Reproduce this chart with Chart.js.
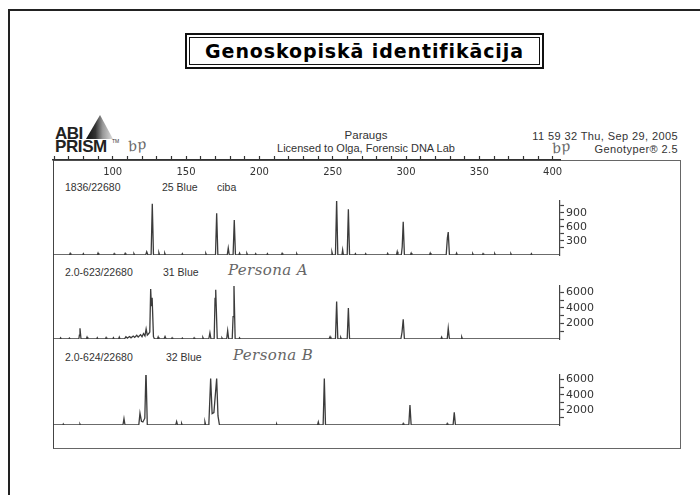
<!DOCTYPE html>
<html>
<head>
<meta charset="utf-8">
<script src="https://cdn.jsdelivr.net/npm/chart.js@4.4.1/dist/chart.umd.min.js"></script>
<style>
  html, body { margin: 0; padding: 0; background: #fff; }
  #page { position: relative; width: 700px; height: 495px; overflow: hidden;
          font-family: "Liberation Sans", Arial, sans-serif; color: #333; }
  .t { position: absolute; white-space: nowrap; line-height: 1; }
  .hand { font-family: "DejaVu Serif", serif; font-style: italic; color: #666; }
  #slideEdge { position: absolute; left: 8px; top: 9px; width: 700px; height: 500px;
               border-top: 2px solid #222; border-left: 2px solid #222; }
  #titleBox { position: absolute; left: 185px; top: 33px; width: 359px; height: 36px;
              box-sizing: border-box; border: 2px solid #111; padding: 2px; }
  #titleBox div { width: 100%; height: 100%; box-sizing: border-box; border: 1px solid #111;
                  display: flex; align-items: center; justify-content: center;
                  font-family: "DejaVu Sans", sans-serif; font-weight: bold; font-size: 19px;
                  letter-spacing: 0.9px; color: #000; }
  #frame { position: absolute; left: 53px; top: 160px; width: 628px; height: 289px;
           box-sizing: border-box; border: 1px solid #666; border-left: 1.5px solid #444; }
  #prism { position: absolute; left: 86px; top: 115px; width: 27px; height: 24px;
           clip-path: polygon(52% 0, 0 100%, 100% 100%);
           background: linear-gradient(to right, #111 0%, #333 35%, #999 62%, #ddd 100%); }
  canvas { position: absolute; left: 0; top: 0; }
</style>
</head>
<body>
<div id="page">
  <div id="slideEdge"></div>
  <div id="titleBox"><div>Genoskopiskā identifikācija</div></div>

  <div id="prism"></div>
  <div class="t" style="left:55px; top:125px; font-weight:bold; font-size:17px; color:#222; letter-spacing:-0.5px;">ABI</div>
  <div class="t" style="left:55px; top:138px; font-weight:bold; font-size:17px; color:#222; letter-spacing:-0.4px;">PRISM</div>
  <div class="t" style="left:112px; top:139px; font-size:5px; color:#333;">TM</div>
  <div class="t hand" style="left:128px; top:138px; font-size:14px; transform:rotate(-12deg);">bp</div>

  <div class="t" style="left:366px; top:130px; font-size:11.5px; transform:translateX(-50%);">Paraugs</div>
  <div class="t" style="left:366px; top:143px; font-size:11px; transform:translateX(-50%);">Licensed to Olga, Forensic DNA Lab</div>
  <div class="t" style="right:22px; top:131px; font-size:11px; letter-spacing:0.4px;">11 59 32 Thu, Sep 29, 2005</div>
  <div class="t" style="right:22px; top:144px; font-size:11px; letter-spacing:0.4px;">Genotyper® 2.5</div>
  <div class="t hand" style="left:552px; top:140px; font-size:14px; transform:rotate(-12deg);">bp</div>

  <div id="frame"></div>

  <div class="t" style="left:65px; top:182px; font-size:10.5px;">1836/22680</div>
  <div class="t" style="left:162px; top:182px; font-size:10.5px;">25 Blue</div>
  <div class="t" style="left:217px; top:182px; font-size:10.5px;">ciba</div>

  <div class="t" style="left:65px; top:267px; font-size:10.5px;">2.0-623/22680</div>
  <div class="t" style="left:163px; top:267px; font-size:10.5px;">31 Blue</div>
  <div class="t hand" style="left:228px; top:263px; font-size:15px; letter-spacing:0.4px;">Persona A</div>

  <div class="t" style="left:65px; top:352px; font-size:10.5px;">2.0-624/22680</div>
  <div class="t" style="left:166px; top:352px; font-size:10.5px;">32 Blue</div>
  <div class="t hand" style="left:233px; top:348px; font-size:15px; letter-spacing:0.4px;">Persona B</div>

  <canvas id="epg" width="700" height="495"></canvas>
</div>

<script>
// fragment size axis (bp) shown along the top
const xTickValues = [60, 70, 80, 90, 100, 110, 120, 130, 140, 150, 160, 170, 180, 190, 200,
  210, 220, 230, 240, 250, 260, 270, 280, 290, 300, 310, 320, 330, 340, 350,
  360, 370, 380, 390, 400];
const xTickLabels = [100, 150, 200, 250, 300, 350, 400];

// RFU rulers on the right of each lane
const cibaTicks = [150, 300, 450, 600, 750, 900, 1050];
const cibaLabels = [300, 600, 900];
const personaTicks = [1000, 2000, 3000, 4000, 5000, 6000];
const personaLabels = [2000, 4000, 6000];

// traces as [bp, rfu]
const cibaTrace = [
  [59.3, 0],
  [70.5, 0], [71, 35], [71.5, 0],
  [79.5, 0], [80, 30], [80.5, 0],
  [89.5, 0], [90, 40], [90.5, 0],
  [100.5, 0], [101, 30], [101.5, 0],
  [108, 0], [108.5, 35], [109, 0],
  [114, 0], [114.5, 30], [115, 0],
  [122.5, 0], [123.2, 70], [124, 0],
  [126.2, 0], [127, 1090], [127.8, 0],
  [131, 0], [131.5, 50], [132, 0],
  [135, 0], [135.5, 40], [136, 0],
  [147, 0], [147.5, 30], [148, 0],
  [163, 0], [163.5, 35], [164, 0],
  [170.1, 0], [170.9, 890], [171.7, 0],
  [178.1, 0], [178.8, 150], [179.5, 0],
  [182.1, 0], [182.9, 745], [183.7, 0],
  [186, 0], [186.5, 40], [187, 0],
  [191, 0], [191.5, 35], [192, 0],
  [197, 0], [197.5, 30], [198, 0],
  [205, 0], [205.5, 30], [206, 0],
  [215, 0], [215.5, 35], [216, 0],
  [225, 0], [225.5, 30], [226, 0],
  [249, 0], [249.5, 60], [250, 0],
  [251.9, 0], [252.7, 1180], [253.5, 0],
  [256.3, 0], [256.8, 110], [257.3, 0],
  [259.9, 0], [260.7, 975], [261.5, 0],
  [265, 0], [265.5, 30], [266, 0],
  [272, 0], [272.5, 30], [273, 0],
  [287, 0], [287.5, 35], [288, 0],
  [293.5, 0], [294, 70], [294.5, 0],
  [296.8, 0], [297.4, 170], [298.1, 710], [298.9, 0],
  [303, 0], [303.5, 40], [304, 0],
  [316, 0], [316.5, 40], [317, 0],
  [327.4, 0], [328.2, 360], [328.8, 490], [329.6, 0],
  [334, 0], [334.5, 40], [335, 0],
  [345, 0], [345.5, 30], [346, 0],
  [352, 0], [352.5, 30], [353, 0],
  [360, 0], [360.5, 30], [361, 0],
  [371, 0], [371.5, 30], [372, 0],
  [385, 0], [385.5, 30], [386, 0],
  [405, 0]
];

const personaATrace = [
  [59.3, 0],
  [64, 0], [64.5, 150], [65, 0],
  [70, 0], [70.5, 130], [71, 0],
  [76.9, 0], [77.3, 500], [77.7, 1380], [78.4, 0],
  [82, 0], [82.5, 250], [83, 0],
  [89, 0], [89.5, 180], [90, 0],
  [95, 0], [95.5, 200], [96, 0],
  [100, 0], [100.5, 180], [101, 0],
  [104, 0], [104.5, 250], [105, 0],
  [108, 0], [109, 280], [110, 120], [111.5, 320], [112.5, 150], [114, 380], [115, 200],
  [116.4, 480], [117.4, 250], [119, 560], [120, 300], [121, 700], [122, 400],
  [122.8, 1300], [123.6, 500], [124.6, 700], [125.3, 900], [125.9, 6410], [126.4, 4200],
  [126.9, 5300], [127.8, 300], [128.5, 0],
  [130.5, 0], [131, 260], [131.5, 0],
  [135, 0], [135.7, 330], [136.4, 0],
  [140, 0], [140.5, 150], [141, 0],
  [147, 0], [147.5, 120], [148, 0],
  [155, 0], [155.5, 150], [156, 0],
  [161, 0], [161.5, 200], [162, 0],
  [165.5, 0], [166.3, 800], [167, 0],
  [169.2, 0], [169.8, 5290], [170.1, 4800], [170.4, 6320], [171.3, 0],
  [174, 0], [174.5, 150], [175, 0],
  [177.7, 0], [178.4, 1070], [179.1, 0],
  [181.5, 0], [182.1, 2870], [182.7, 6960], [183.5, 0],
  [186, 0], [186.5, 150], [187, 0],
  [247.5, 0], [248.2, 300], [248.8, 0],
  [251.9, 0], [252.7, 4800], [253.5, 0],
  [255, 0], [255.5, 200], [256, 0],
  [259.9, 0], [260.7, 3960], [261.5, 0],
  [296.5, 0], [297.3, 900], [298.1, 2540], [298.9, 0],
  [323.8, 0], [324.3, 250], [324.8, 0],
  [328.1, 0], [328.8, 1380], [329.6, 0],
  [337.5, 0], [338, 250], [338.5, 0],
  [405, 0]
];

const personaBTrace = [
  [59.3, 0],
  [66, 0], [66.3, 120], [66.6, 0],
  [77.4, 0], [77.7, 120], [78, 0],
  [107, 0], [107.7, 850], [108.4, 0],
  [117.8, 0], [118.6, 1570], [119.6, 500], [120.6, 400], [121.9, 900], [122.7, 7300], [123.6, 0],
  [143, 0], [143.6, 450], [144.2, 0],
  [146.6, 0], [147, 200], [147.4, 0],
  [162.4, 0], [162.9, 400], [163.4, 0],
  [165, 0], [165.6, 300], [166.8, 6120], [167.8, 1500], [169, 1640], [170.9, 6120],
  [171.8, 1200], [172.8, 0],
  [211.5, 0], [211.8, 130], [212.1, 0],
  [239.7, 0], [240.2, 400], [240.7, 0],
  [243.5, 0], [244.3, 6120], [245.1, 0],
  [297.6, 0], [298.1, 200], [298.6, 0],
  [301.9, 0], [302.7, 2620], [303.5, 0],
  [327.6, 0], [328.1, 200], [328.6, 0],
  [332.1, 0], [332.9, 1660], [333.7, 0],
  [405, 0]
];

const traceColor = '#3b3b3b';
const inkColor = '#444';

// lane with a ruler on the right
function laneScale(weight, max, ticks, labels) {
  return {
    type: 'linear',
    position: 'right',
    stack: 'lanes',
    stackWeight: weight,
    min: 0,
    max: max,
    afterFit: s => { s.width = 40; },
    afterBuildTicks: s => { s.ticks = ticks.map(v => ({ value: v })); },
    border: { color: inkColor, width: 1.2 },
    grid: { drawOnChartArea: false, tickLength: 4, tickColor: inkColor, tickWidth: 1.2 },
    ticks: {
      autoSkip: false,
      padding: 2,
      color: '#333',
      font: { family: 'DejaVu Sans', size: 11 },
      callback: v => labels.includes(v) ? String(v) : ''
    }
  };
}

// blank strip between lanes (holds the lane captions)
function gapScale(weight) {
  return {
    type: 'linear',
    position: 'right',
    stack: 'lanes',
    stackWeight: weight,
    afterFit: s => { s.width = 40; },
    grid: { display: false },
    border: { display: false },
    ticks: { display: false }
  };
}

function laneDataset(trace, axisId) {
  return {
    data: trace.map(p => ({ x: p[0], y: p[1] })),
    yAxisID: axisId,
    borderColor: traceColor,
    borderWidth: 1.3,
    pointRadius: 0,
    tension: 0,
    fill: false
  };
}

new Chart(document.getElementById('epg'), {
  type: 'line',
  data: {
    datasets: [
      laneDataset(cibaTrace, 'y1'),
      laneDataset(personaATrace, 'y2'),
      laneDataset(personaBTrace, 'y3')
    ]
  },
  options: {
    responsive: false,
    animation: false,
    layout: { padding: { left: 53, right: 100, top: 150, bottom: 47 } },
    plugins: { legend: { display: false }, tooltip: { enabled: false } },
    scales: {
      x: {
        type: 'linear',
        position: 'top',
        min: 59.3,
        max: 405,
        afterFit: s => { s.height = 10; },
        afterBuildTicks: s => { s.ticks = xTickValues.map(v => ({ value: v })); },
        border: { color: '#333', width: 1.5 },
        grid: { drawOnChartArea: false, tickLength: 4, tickColor: '#333', tickWidth: 1.2 },
        ticks: {
          autoSkip: false,
          maxRotation: 0,
          mirror: true,
          padding: 6,
          color: '#333',
          font: { family: 'DejaVu Sans', size: 10 },
          callback: v => xTickLabels.includes(v) ? String(v) : ''
        }
      },
      g0: gapScale(41),
      y1: laneScale(54, 1150, cibaTicks, cibaLabels),
      g1: gapScale(31),
      y2: laneScale(53, 6800, personaTicks, personaLabels),
      g2: gapScale(36),
      y3: laneScale(50, 6600, personaTicks, personaLabels),
      g3: gapScale(23)
    }
  }
});
</script>
</body>
</html>
